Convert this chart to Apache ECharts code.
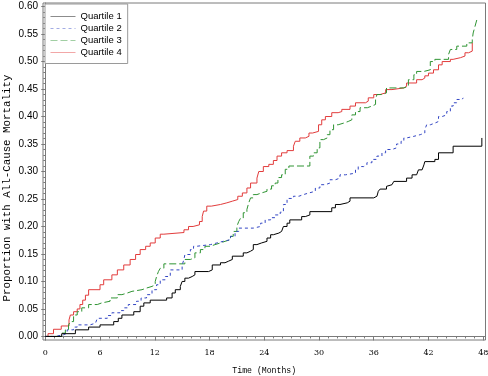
<!DOCTYPE html>
<html>
<head>
<meta charset="utf-8">
<script src="https://cdn.jsdelivr.net/npm/echarts@6/dist/echarts.min.js"></script>
<style>html,body{margin:0;padding:0;background:#fff}#c{width:488px;height:376px}</style>
</head>
<body>
<div id="c"></div>
<script>
const seriesNames = ['Quartile 1', 'Quartile 2', 'Quartile 3', 'Quartile 4'];
const xTicks = [0, 6, 12, 18, 24, 30, 36, 42, 48];
const yTicks = [0, 0.05, 0.10, 0.15, 0.20, 0.25, 0.30, 0.35, 0.40, 0.45, 0.50, 0.55, 0.60];
const xTitle = 'Time (Months)';
const yTitle = 'Proportion with All-Cause Mortality';

// [month, cumulative proportion]
const q1 = [[0,0],[1.8,0.005],[3.3,0.012],[4.75,0.017],[6.0,0.021],[7.5,0.027],[8.0,0.033],[8.4,0.039],[9.7,0.045],[10.4,0.055],[10.8,0.061],[11.5,0.066],[13.3,0.070],[13.9,0.079],[14.25,0.085],[14.8,0.091],[15.0,0.100],[15.3,0.106],[15.7,0.109],[16.1,0.112],[16.4,0.118],[17.9,0.121],[18.3,0.130],[19.2,0.134],[19.7,0.137],[20.1,0.140],[20.5,0.146],[21.7,0.152],[22.1,0.155],[22.5,0.158],[22.8,0.167],[23.2,0.170],[23.7,0.173],[24.3,0.179],[24.7,0.185],[25.0,0.188],[25.6,0.191],[25.9,0.194],[26.1,0.200],[26.5,0.206],[26.8,0.212],[28.1,0.218],[28.5,0.221],[29.0,0.227],[31.4,0.234],[31.8,0.240],[32.3,0.243],[33.1,0.246],[33.4,0.252],[36.0,0.255],[36.35,0.258],[36.5,0.264],[36.7,0.268],[37.4,0.273],[37.6,0.276],[38.0,0.279],[38.2,0.282],[39.6,0.288],[40.2,0.294],[40.7,0.297],[40.9,0.303],[41.3,0.306],[41.5,0.312],[41.6,0.318],[42.7,0.322],[43.1,0.334],[44.7,0.346],[47.85,0.361]];
const q2 = [[0,0],[1.1,0.003],[2.0,0.006],[2.4,0.012],[3.1,0.017],[3.5,0.021],[4.9,0.024],[5.5,0.027],[5.7,0.033],[6.8,0.038],[7.3,0.043],[8.2,0.047],[8.6,0.052],[9.1,0.058],[10.0,0.064],[10.5,0.070],[11.1,0.076],[11.7,0.085],[12.2,0.094],[12.6,0.103],[13.15,0.109],[13.7,0.121],[15.0,0.130],[15.2,0.140],[15.3,0.149],[15.9,0.158],[16.25,0.164],[16.6,0.167],[18.1,0.170],[18.8,0.173],[19.5,0.176],[20.3,0.182],[20.8,0.191],[21.2,0.197],[22.8,0.200],[23.6,0.206],[24.1,0.212],[24.7,0.216],[25.2,0.221],[25.75,0.226],[26.1,0.240],[26.5,0.251],[27.2,0.255],[27.8,0.258],[28.3,0.261],[28.9,0.264],[29.6,0.270],[30.1,0.276],[30.7,0.279],[31.2,0.285],[31.8,0.288],[32.3,0.294],[32.9,0.297],[34.0,0.303],[34.3,0.309],[34.9,0.312],[35.25,0.316],[35.8,0.322],[36.35,0.328],[36.9,0.334],[37.3,0.340],[38.0,0.343],[38.5,0.350],[39.0,0.355],[39.3,0.361],[39.6,0.364],[40.4,0.367],[41.1,0.370],[41.6,0.376],[41.8,0.385],[42.2,0.388],[42.7,0.391],[43.1,0.400],[43.5,0.403],[44.0,0.409],[44.4,0.419],[44.7,0.425],[45.1,0.431],[45.7,0.434],[45.8,0.434]];
const q3 = [[0,0],[1.8,0.006],[2.2,0.012],[2.55,0.021],[2.75,0.027],[3.1,0.039],[3.5,0.045],[4.0,0.052],[4.75,0.058],[5.7,0.061],[6.2,0.064],[7.1,0.070],[7.9,0.076],[8.4,0.079],[9.0,0.082],[9.5,0.085],[10.6,0.088],[11.1,0.091],[11.7,0.094],[12.05,0.100],[12.2,0.109],[12.4,0.118],[12.6,0.124],[13.0,0.132],[15.3,0.140],[15.9,0.143],[16.4,0.152],[17.0,0.158],[17.5,0.164],[18.1,0.167],[18.6,0.170],[19.2,0.173],[19.7,0.176],[20.3,0.182],[20.6,0.191],[21.0,0.200],[21.2,0.209],[21.4,0.215],[21.7,0.225],[22.1,0.231],[22.3,0.243],[22.5,0.252],[22.8,0.258],[23.2,0.261],[23.7,0.264],[24.3,0.268],[24.8,0.274],[25.2,0.279],[25.5,0.289],[25.9,0.294],[26.3,0.304],[26.7,0.310],[29.0,0.328],[29.4,0.334],[29.8,0.343],[30.1,0.358],[30.5,0.361],[30.9,0.367],[31.2,0.376],[31.6,0.385],[32.1,0.388],[32.7,0.391],[33.2,0.394],[33.6,0.403],[34.0,0.409],[34.5,0.416],[35.3,0.419],[35.8,0.422],[36.2,0.431],[36.35,0.440],[36.9,0.443],[37.4,0.452],[39.3,0.455],[39.8,0.467],[40.4,0.476],[40.7,0.482],[41.5,0.485],[42.2,0.500],[42.7,0.504],[44.2,0.513],[44.4,0.522],[45.1,0.528],[46.2,0.534],[46.8,0.540],[46.9,0.552],[47.1,0.564],[47.3,0.576]];
const q4 = [[0,0],[0.3,0.005],[0.9,0.013],[1.75,0.019],[2.6,0.030],[2.75,0.039],[3.1,0.045],[3.5,0.050],[3.8,0.058],[4.1,0.066],[4.4,0.075],[4.75,0.085],[6.0,0.094],[6.4,0.103],[7.3,0.112],[7.9,0.121],[8.6,0.130],[9.3,0.140],[9.9,0.149],[10.4,0.158],[11.0,0.164],[11.5,0.170],[12.05,0.179],[12.6,0.186],[13.0,0.189],[15.2,0.194],[15.7,0.200],[16.2,0.203],[16.9,0.209],[17.2,0.218],[17.35,0.228],[17.7,0.237],[18.2,0.240],[19.2,0.243],[19.9,0.246],[20.5,0.249],[21.1,0.255],[21.6,0.261],[22.1,0.270],[22.5,0.279],[23.2,0.288],[23.4,0.300],[23.9,0.309],[24.5,0.313],[25.0,0.320],[25.4,0.328],[25.9,0.334],[26.5,0.338],[27.2,0.346],[27.4,0.355],[27.9,0.361],[28.5,0.364],[28.9,0.370],[29.3,0.373],[29.95,0.385],[30.3,0.394],[30.7,0.400],[31.4,0.407],[32.1,0.409],[32.5,0.413],[33.4,0.419],[34.0,0.425],[35.1,0.428],[35.4,0.434],[36.0,0.440],[36.7,0.443],[37.3,0.449],[38.0,0.452],[39.3,0.455],[39.6,0.461],[40.7,0.467],[41.3,0.470],[41.6,0.474],[42.0,0.479],[42.55,0.485],[43.1,0.494],[43.5,0.500],[44.4,0.504],[44.7,0.507],[45.5,0.510],[46.0,0.516],[46.4,0.519],[46.8,0.534]];

const seriesData = [q1, q2, q3, q4];
const colors = ['#000000', '#3346c4', '#2f9433', '#e23c3c'];
const dashes = ['solid', [3, 3], [7, 3], 'solid'];

const xMinor = [];
for (let m = 0; m <= 48; m++) if (m % 6) xMinor.push(m);
const yMinor = [];
for (let k = 0; k <= 60; k++) if (k % 5) yMinor.push(k / 100);

const X_MIN = -0.25, X_MAX = 48.25, Y_MIN = -0.0065, Y_MAX = 0.6065;
const axisColor = '#7a7a7a';

const chart = echarts.init(document.getElementById('c'), null, {renderer: 'canvas'});
chart.setOption({
  animation: false,
  backgroundColor: '#fff',
  grid: {left: 43, right: 2.5, top: 3, bottom: 36, containLabel: false, outerBoundsMode: 'none',
         show: true, borderColor: axisColor, borderWidth: 1, backgroundColor: 'transparent'},
  legend: {
    left: 45, top: 4, orient: 'vertical',
    data: seriesNames,
    backgroundColor: '#fff',
    borderColor: '#9a9a9a', borderWidth: 1,
    padding: [7.5, 6, 6, 5],
    itemWidth: 25, itemHeight: 10, itemGap: 2,
    itemStyle: {color: 'transparent', borderColor: 'transparent', borderWidth: 0, opacity: 0},
    lineStyle: {width: 1, opacity: 0.45},
    textStyle: {fontFamily: 'Liberation Sans', fontSize: 9.5, color: '#000'}
  },
  graphic: [{
    type: 'text', x: 7, y: 188, rotation: Math.PI / 2,
    style: {text: yTitle, fontFamily: 'Liberation Mono', fontSize: 10.8, fill: '#000', align: 'center', verticalAlign: 'middle'}
  }],
  xAxis: [
    {
      type: 'value', min: X_MIN, max: X_MAX,
      name: xTitle, nameLocation: 'middle', nameGap: 27,
      nameTextStyle: {fontFamily: 'Liberation Mono', fontSize: 8.2, color: '#000'},
      axisLine: {show: true, lineStyle: {color: axisColor, width: 1}},
      axisTick: {show: true, customValues: xTicks, length: 4, lineStyle: {color: axisColor}},
      axisLabel: {customValues: xTicks, margin: 9, fontFamily: 'DejaVu Serif', fontSize: 8, color: '#000', formatter: v => String(v)},
      splitLine: {show: false}
    },
    {
      type: 'value', min: X_MIN, max: X_MAX, position: 'bottom',
      axisLine: {show: false},
      axisTick: {show: true, customValues: xMinor, length: 2, lineStyle: {color: axisColor}},
      axisLabel: {show: false}, splitLine: {show: false}
    }
  ],
  yAxis: [
    {
      type: 'value', min: Y_MIN, max: Y_MAX,
      axisLine: {show: true, lineStyle: {color: axisColor, width: 1}},
      axisTick: {show: true, customValues: yTicks, length: 4, lineStyle: {color: axisColor}},
      axisLabel: {customValues: yTicks, margin: 5, fontFamily: 'Liberation Sans', fontSize: 10, color: '#000', formatter: v => v.toFixed(2)},
      splitLine: {show: false}
    },
    {
      type: 'value', min: Y_MIN, max: Y_MAX, position: 'left',
      axisLine: {show: false},
      axisTick: {show: true, customValues: yMinor, length: 2, lineStyle: {color: axisColor}},
      axisLabel: {show: false}, splitLine: {show: false}
    }
  ],
  series: seriesNames.map((name, i) => ({
    name: name, type: 'line', step: 'end',
    xAxisIndex: 0, yAxisIndex: 0,
    data: seriesData[i],
    showSymbol: false, symbol: 'none',
    color: colors[i],
    lineStyle: {color: colors[i], width: 1, type: dashes[i]},
    z: 4 - i
  }))
});
</script>
</body>
</html>
